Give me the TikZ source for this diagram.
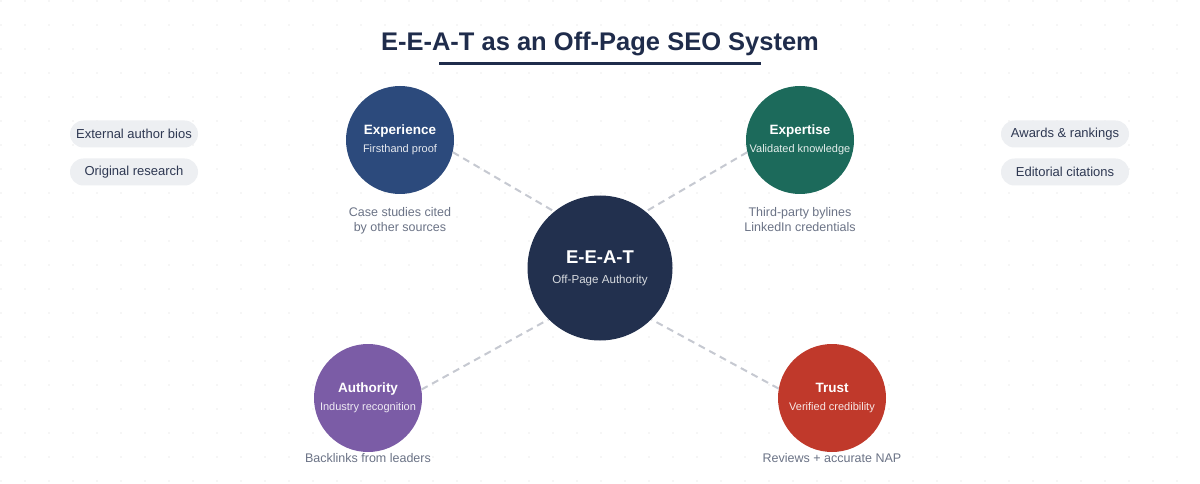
\documentclass[tikz,border=0pt]{standalone}
\usepackage{fontspec}
\setmainfont{Liberation Sans}
\usetikzlibrary{positioning, calc}

\definecolor{inkblue}{HTML}{1F2C4B}
\definecolor{corenavy}{HTML}{22304E}
\definecolor{expblue}{HTML}{2C4A7C}
\definecolor{expgreen}{HTML}{1C6A5B}
\definecolor{authpurple}{HTML}{7B5CA6}
\definecolor{trustred}{HTML}{C0392B}
\definecolor{notegray}{HTML}{6B7386}
\definecolor{linkgray}{HTML}{C6C9D1}
\definecolor{pillfill}{HTML}{EDEFF2}
\definecolor{pilltext}{HTML}{2E3852}
\definecolor{griddot}{HTML}{EEEEEE}

\begin{document}
\begin{tikzpicture}[
    x=1pt, y=-1pt,
    font=\fontsize{12.5}{15}\selectfont,
    node distance=13pt and 10pt,
    pillar/.style={
      circle, minimum size=108pt, inner sep=0pt,
      text=white, align=center,
      font=\fontsize{13.5}{16}\selectfont\bfseries
    },
    hub/.style={
      pillar, minimum size=145pt,
      font=\fontsize{18.5}{20}\selectfont\bfseries
    },
    note/.style={
      text=notegray, align=center, inner sep=0pt,
      font=\fontsize{12.5}{15}\selectfont
    },
    pill/.style={
      fill=pillfill, text=pilltext, rounded corners=13.5pt,
      minimum width=128pt, minimum height=27pt, inner sep=0pt,
      font=\fontsize{13}{15}\selectfont
    },
    link/.style={draw=linkgray, line width=2pt, dash pattern=on 7pt off 5pt}
  ]
  % page and dotted backdrop
  \fill[white] (0,0) rectangle (1200,484);
  \useasboundingbox (0,0) rectangle (1200,484);
  \foreach \gx in {0,...,49}
    \foreach \gy in {0,...,20}
      \fill[griddot] (1+24*\gx,1+24*\gy) circle (0.9pt);

  % heading
  \node[text=inkblue, font=\fontsize{25.5}{30}\selectfont\bfseries] (title) at (600,44)
    {E-E-A-T as an Off-Page SEO System};
  \draw[inkblue, line width=3pt] (439,64) -- (761,64);

  % hub and pillars
  \node[hub, fill=corenavy] (core) at (600,268)
    {E-E-A-T\\[0pt]{\mdseries\fontsize{11.6}{14}\selectfont\color{white!82!corenavy}Off-Page Authority}};
  \node[pillar, fill=expblue] (exper) at (400,140)
    {Experience\\[2pt]{\mdseries\fontsize{11}{13}\selectfont\color{white!88!expblue}Firsthand proof}};
  \node[pillar, fill=expgreen] (expert) at (800,140)
    {Expertise\\[2pt]{\mdseries\fontsize{11}{13}\selectfont\color{white!88!expgreen}Validated knowledge}};
  \node[pillar, fill=authpurple] (auth) at (368,398)
    {Authority\\[2pt]{\mdseries\fontsize{11}{13}\selectfont\color{white!88!authpurple}Industry recognition}};
  \node[pillar, fill=trustred] (trust) at (832,398)
    {Trust\\[2pt]{\mdseries\fontsize{11}{13}\selectfont\color{white!88!trustred}Verified credibility}};

  % notes under pillars
  \node[note, below=of exper]  (exper-note)  {Case studies cited\\by other sources};
  \node[note, below=of expert] (expert-note) {Third-party bylines\\LinkedIn credentials};
  \node[note, below=1pt of auth]  (auth-note)  {Backlinks from leaders};
  \node[note, below=1pt of trust] (trust-note) {Reviews + accurate NAP};

  % side pills
  \node[pill] (bios) at (134,134) {External author bios};
  \node[pill] (research) at (134,172) {Original research};
  \node[pill] (awards) at (1065,134) {Awards \& rankings};
  \node[pill] (citations) at (1065,172) {Editorial citations};

  % dashed links
  \draw[link] (exper.-13) -- (core.129);
  \draw[link] (expert.193) -- (core.51);
  \draw[link] (auth.9.5) -- (core.225.5);
  \draw[link] (trust.170.5) -- (core.-45.5);
\end{tikzpicture}
\end{document}
